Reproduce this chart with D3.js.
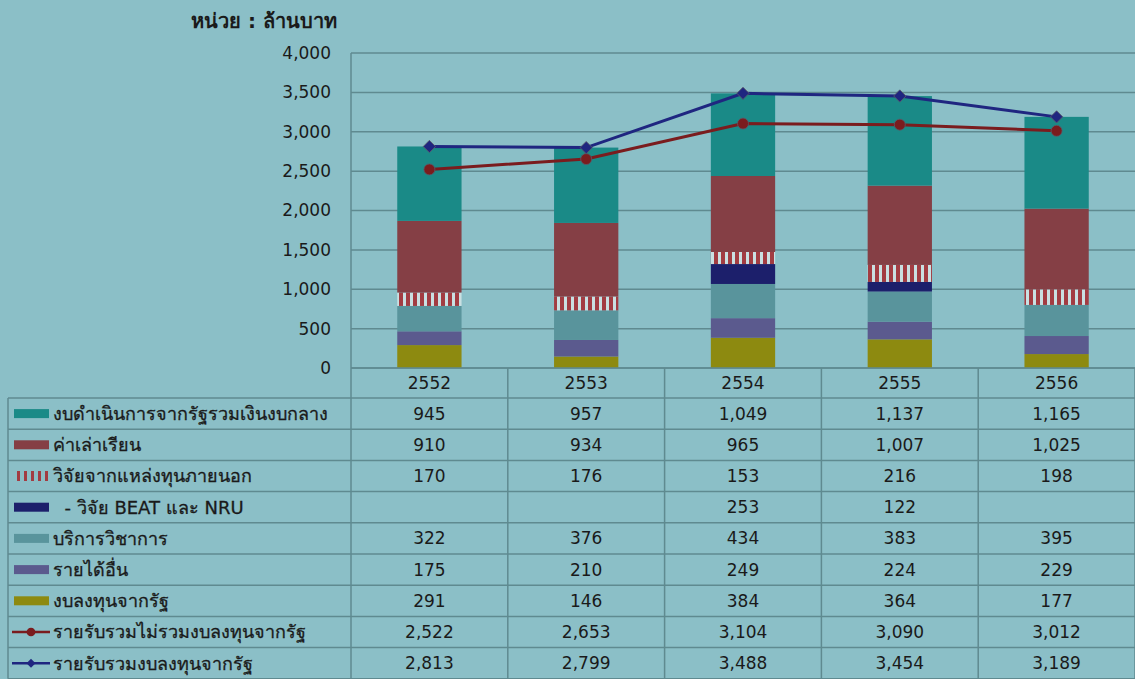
<!DOCTYPE html>
<html>
<head>
<meta charset="utf-8">
<script src="https://cdn.jsdelivr.net/npm/d3@7"></script>
<style>
  html, body { margin: 0; padding: 0; background: #8bbfc7; }
  svg { display: block; }
  text { font-family: Tahoma, "DejaVu Sans", "Noto Sans", sans-serif; fill: #1a1a1a; }
</style>
</head>
<body>
<svg id="chart" width="1135" height="679"></svg>
<script>
// Income by source, million baht, fiscal years B.E.
const years = ['2552', '2553', '2554', '2555', '2556'];
const opBudget = [945, 957, 1049, 1137, 1165];
const tuition = [910, 934, 965, 1007, 1025];
const extResearch = [170, 176, 153, 216, 198];
const beatNru = [null, null, 253, 122, null];
const academicService = [322, 376, 434, 383, 395];
const otherIncome = [175, 210, 249, 224, 229];
const investment = [291, 146, 384, 364, 177];
const totalExclInvest = [2522, 2653, 3104, 3090, 3012];
const totalIncome = [2813, 2799, 3488, 3454, 3189];
const yTicks = [0, 500, 1000, 1500, 2000, 2500, 3000, 3500, 4000];

const barSeries = [
  { key: 'investment', label: 'งบลงทุนจากรัฐ', values: investment, fill: '#8d8a10' },
  { key: 'otherIncome', label: 'รายได้อื่น', values: otherIncome, fill: '#5b5a8e' },
  { key: 'academicService', label: 'บริการวิชาการ', values: academicService, fill: '#59949c' },
  { key: 'beatNru', label: '  - วิจัย BEAT และ NRU', values: beatNru, fill: '#1c1f6b' },
  { key: 'extResearch', label: 'วิจัยจากแหล่งทุนภายนอก', values: extResearch, fill: 'url(#stripes)' },
  { key: 'tuition', label: 'ค่าเล่าเรียน', values: tuition, fill: '#853f45' },
  { key: 'opBudget', label: 'งบดำเนินการจากรัฐรวมเงินงบกลาง', values: opBudget, fill: '#1a8a87' }
];
const lineSeries = [
  { key: 'totalExclInvest', label: 'รายรับรวมไม่รวมงบลงทุนจากรัฐ', values: totalExclInvest, stroke: '#7a1c1e', marker: 'circle' },
  { key: 'totalIncome', label: 'รายรับรวมงบลงทุนจากรัฐ', values: totalIncome, stroke: '#1f2680', marker: 'diamond' }
];

const svg = d3.select('#chart');
const defs = svg.append('defs');
const pat = defs.append('pattern').attr('id', 'stripes')
  .attr('patternUnits', 'userSpaceOnUse').attr('width', 7).attr('height', 10);
pat.append('rect').attr('width', 7).attr('height', 10).attr('fill', '#c9e0e2');
pat.append('rect').attr('width', 4).attr('height', 10).attr('fill', '#a23c42');

const plotLeft = 351, plotRight = 1135, plotTop = 53, plotBase = 368;
const x = d3.scaleBand().domain(years).range([plotLeft, plotRight]).padding(0);
const xb = d3.scaleBand().domain(years).range([plotLeft, plotRight]).paddingInner(0.59).paddingOuter(0.295);
const y = d3.scaleLinear().domain([0, 4000]).range([plotBase, plotTop]);
const gridColor = '#5f8a90';

// marker shapes: circle, or a square turned 45 degrees
const markerPath = (kind, size) => kind === 'circle'
  ? d3.symbol().type(d3.symbolCircle).size(size)()
  : d3.symbol().type(d3.symbolSquare).size(size)();
const markerRotate = kind => kind === 'circle' ? '' : ' rotate(45)';

// gridlines
svg.append('g').selectAll('line').data(yTicks).join('line')
  .attr('x1', plotLeft).attr('x2', plotRight)
  .attr('y1', d => y(d)).attr('y2', d => y(d))
  .attr('stroke', gridColor).attr('stroke-width', 1.5);

// y-axis labels
const yAxis = d3.axisLeft(y).tickValues(yTicks).tickFormat(d3.format(',')).tickSize(0).tickPadding(20);
const ga = svg.append('g').attr('transform', `translate(${plotLeft},0)`).call(yAxis);
ga.select('.domain').remove();
ga.selectAll('text').attr('font-size', 17).attr('fill', '#1a1a1a')
  .attr('font-family', 'Tahoma, "DejaVu Sans", sans-serif');

// unit label
svg.append('text').attr('x', 337).attr('y', 28).attr('text-anchor', 'end')
  .attr('font-size', 20).attr('font-weight', 'bold').text('หน่วย : ล้านบาท');

// stacked bars
const table = years.map((yr, i) => {
  const row = { year: yr };
  barSeries.forEach(s => { row[s.key] = s.values[i] || 0; });
  return row;
});
const stack = d3.stack().keys(barSeries.map(s => s.key))(table);
svg.append('g').selectAll('g').data(stack).join('g')
  .attr('fill', (d, i) => barSeries[i].fill)
  .selectAll('rect').data(d => d).join('rect')
  .attr('x', d => xb(d.data.year))
  .attr('width', xb.bandwidth())
  .attr('y', d => y(d[1]))
  .attr('height', d => y(d[0]) - y(d[1]));

// lines
const cx = yr => x(yr) + x.bandwidth() / 2;
lineSeries.forEach(s => {
  const pts = years.map((yr, i) => [cx(yr), y(s.values[i])]);
  svg.append('path').datum(pts).attr('d', d3.line())
    .attr('fill', 'none').attr('stroke', s.stroke).attr('stroke-width', 3);
  const size = s.marker === 'circle' ? 95 : 75;
  svg.append('g').selectAll('path').data(pts).join('path')
    .attr('transform', d => `translate(${d[0]},${d[1]})${markerRotate(s.marker)}`)
    .attr('d', markerPath(s.marker, size))
    .attr('fill', s.stroke).attr('stroke', '#5a5a6a').attr('stroke-width', 0.8);
});

// data table
const rowH = 31.2;
const hdrTop = plotBase, bodyTop = plotBase + 30;
const rows = [...barSeries].reverse().concat(lineSeries);
const nRows = rows.length;
const tableBottom = bodyTop + nRows * rowH;
const tg = svg.append('g');
// header line (x axis)
tg.append('line').attr('x1', plotLeft).attr('x2', plotRight).attr('y1', plotBase).attr('y2', plotBase)
  .attr('stroke', gridColor).attr('stroke-width', 1.5);
// row lines
d3.range(nRows + 1).forEach(k => {
  const yy = bodyTop + k * rowH;
  tg.append('line').attr('x1', 8).attr('x2', plotRight).attr('y1', yy).attr('y2', yy)
    .attr('stroke', gridColor).attr('stroke-width', 1.5);
});
// vertical lines
tg.append('line').attr('x1', 8).attr('x2', 8).attr('y1', bodyTop).attr('y2', tableBottom)
  .attr('stroke', gridColor).attr('stroke-width', 1.5);
tg.append('line').attr('x1', plotLeft).attr('x2', plotLeft).attr('y1', plotTop).attr('y2', tableBottom)
  .attr('stroke', gridColor).attr('stroke-width', 1.5);
years.forEach(yr => {
  const xx = x(yr) + x.bandwidth();
  tg.append('line').attr('x1', xx).attr('x2', xx).attr('y1', plotBase).attr('y2', tableBottom)
    .attr('stroke', gridColor).attr('stroke-width', 1.5);
});
// year header
tg.selectAll('text.yr').data(years).join('text').attr('class', 'yr')
  .attr('x', d => cx(d)).attr('y', hdrTop + 15).attr('dy', '0.35em')
  .attr('text-anchor', 'middle').attr('font-size', 17).text(d => d);

const fmt = d3.format(',');
rows.forEach((s, r) => {
  const cy = bodyTop + r * rowH + rowH / 2;
  // legend key
  if (s.marker) {
    tg.append('line').attr('x1', 12).attr('x2', 50).attr('y1', cy).attr('y2', cy)
      .attr('stroke', s.stroke).attr('stroke-width', 2.5);
    tg.append('path').attr('transform', `translate(31,${cy})${markerRotate(s.marker)}`)
      .attr('d', markerPath(s.marker, s.marker === 'circle' ? 60 : 40))
      .attr('fill', s.stroke);
  } else if (s.key === 'extResearch') {
    d3.range(5).forEach(k => {
      tg.append('rect').attr('x', 17 + k * 7).attr('y', cy - 5).attr('width', 3).attr('height', 10)
        .attr('fill', '#a23c42');
    });
  } else {
    tg.append('rect').attr('x', 14).attr('y', cy - 4.5).attr('width', 35).attr('height', 9)
      .attr('fill', s.fill);
  }
  tg.append('text').attr('x', 53).attr('y', cy).attr('dy', '0.35em')
    .attr('font-size', 18).attr('stroke', '#1a1a1a').attr('stroke-width', 0.3)
    .attr('xml:space', 'preserve').text(s.label);
  years.forEach((yr, i) => {
    const v = s.values[i];
    if (v == null) return;
    tg.append('text').attr('x', cx(yr)).attr('y', cy).attr('dy', '0.35em')
      .attr('text-anchor', 'middle').attr('font-size', 17).text(fmt(v));
  });
});
</script>
</body>
</html>
